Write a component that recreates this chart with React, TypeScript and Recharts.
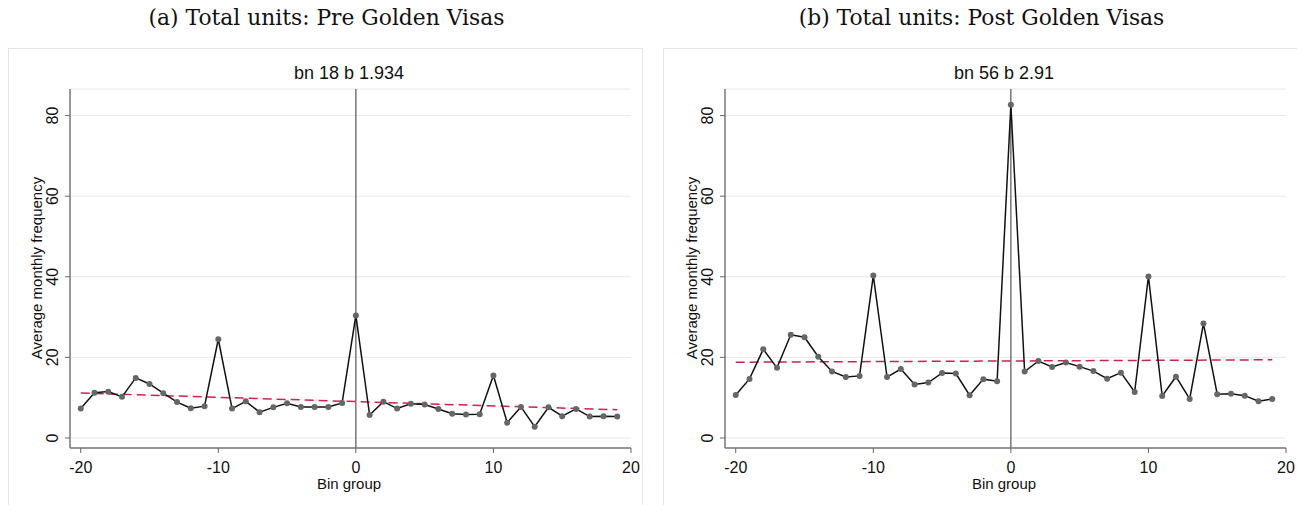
import React from 'react';
import { LineChart, Line, XAxis, YAxis, CartesianGrid, ReferenceLine } from 'recharts';

const bins = [-20, -19, -18, -17, -16, -15, -14, -13, -12, -11, -10, -9, -8, -7, -6, -5, -4, -3, -2, -1, 0, 1, 2, 3, 4, 5, 6, 7, 8, 9, 10, 11, 12, 13, 14, 15, 16, 17, 18, 19];

const preValues = [7.3, 11.2, 11.5, 10.2, 14.9, 13.4, 11.1, 8.9, 7.4, 7.9, 24.5, 7.3, 9.1, 6.4, 7.6, 8.6, 7.7, 7.7, 7.7, 8.7, 30.4, 5.7, 9.0, 7.3, 8.5, 8.3, 7.2, 6.0, 5.8, 5.9, 15.5, 3.8, 7.7, 2.8, 7.6, 5.4, 7.2, 5.3, 5.4, 5.3];
const postValues = [10.65, 14.65, 22.0, 17.4, 25.6, 25.0, 20.15, 16.5, 15.15, 15.4, 40.3, 15.1, 17.1, 13.25, 13.75, 16.15, 16.0, 10.6, 14.6, 14.1, 82.7, 16.5, 19.1, 17.6, 18.7, 17.7, 16.6, 14.7, 16.2, 11.4, 40.1, 10.4, 15.2, 9.7, 28.4, 10.85, 11.0, 10.5, 9.1, 9.7];

// fitted line endpoints (bin -20 and bin 19)
const fitBins = [-20, 19];
const preFit = [11.15, 7.0];
const postFit = [18.8, 19.4];

const xTicks = [-20, -10, 0, 10, 20];
const yTicks = [0, 20, 40, 60, 80];

const panelTitles = ['(a) Total units: Pre Golden Visas', '(b) Total units: Post Golden Visas'];
const chartTitles = ['bn 18 b 1.934', 'bn 56 b 2.91'];

const sans = '"Liberation Sans", Arial, sans-serif';

const XTick = (props: any) => {
  const { x, y, payload } = props;
  return (
    <text x={x} y={y + 18} textAnchor="middle" fontFamily={sans} fontSize={16} fill="#111">
      {payload.value}
    </text>
  );
};

const YTick = (props: any) => {
  const { x, y, payload } = props;
  return (
    <text transform={`translate(${x - 5}, ${y}) rotate(-90)`} textAnchor="middle" fontFamily={sans} fontSize={16} fill="#111">
      {payload.value}
    </text>
  );
};

function Panel({ left, idx, values, fit }: { left: number; idx: number; values: number[]; fit: number[] }) {
  const data = bins.map((b, i) => ({ bin: b, v: values[i] }));
  const fitData = fitBins.map((b, i) => ({ bin: b, fit: fit[i] }));
  return (
    <div style={{ position: 'absolute', left, top: 0, width: 660, height: 505 }}>
      <div style={{ position: 'absolute', left: 0, width: 653, top: 5, textAlign: 'center', fontFamily: '"DejaVu Serif", "Liberation Serif", serif', fontSize: 21.8, color: '#111' }}>
        {panelTitles[idx]}
      </div>
      <div style={{ position: 'absolute', left: 8, top: 48, width: 635, height: 470, border: '1px solid #e6e6e6', boxSizing: 'border-box' }} />
      <div style={{ position: 'absolute', left: 0, width: 698, top: 63, textAlign: 'center', fontFamily: sans, fontSize: 18, color: '#111' }}>
        {chartTitles[idx]}
      </div>
      <div style={{ position: 'absolute', left: 37 - 150, top: 268 - 10, width: 300, height: 20, lineHeight: '20px', textAlign: 'center', transform: 'rotate(-90deg)', fontFamily: sans, fontSize: 15, color: '#111' }}>
        Average monthly frequency
      </div>
      <div style={{ position: 'absolute', left: 0, width: 698, top: 475, textAlign: 'center', fontFamily: sans, fontSize: 15, color: '#111' }}>
        Bin group
      </div>
      <div style={{ position: 'absolute', left: 0, top: 0 }}>
        <LineChart width={660} height={505} data={data} margin={{ top: 89, right: 29, bottom: 17, left: 50 }}>
          <CartesianGrid horizontal vertical={false} stroke="#e8e8e8" />
          <XAxis
            dataKey="bin"
            type="number"
            domain={[-20.78, 20]}
            ticks={xTicks}
            allowDataOverflow
            height={40}
            tick={<XTick />}
            tickSize={5}
            tickLine={{ stroke: '#666' }}
            axisLine={{ stroke: '#777', strokeWidth: 1.5 }}
          />
          <YAxis
            type="number"
            domain={[-2.49, 86.6]}
            ticks={yTicks}
            allowDataOverflow
            width={20}
            tick={<YTick />}
            tickSize={5}
            tickLine={{ stroke: '#666' }}
            axisLine={{ stroke: '#777', strokeWidth: 1.5 }}
          />
          <ReferenceLine x={0} stroke="#555" strokeWidth={1.2} />
          <Line data={fitData} dataKey="fit" stroke="#d0204c" strokeWidth={1.5} strokeDasharray="9 5" dot={false} isAnimationActive={false} />
          <Line dataKey="v" stroke="#111" strokeWidth={1.5} dot={{ r: 3, fill: '#666', stroke: 'none' }} isAnimationActive={false} />
        </LineChart>
      </div>
    </div>
  );
}

export default function App() {
  return (
    <div style={{ position: 'absolute', left: 0, top: 0, width: 1297, height: 505, background: '#fff', overflow: 'hidden' }}>
      <Panel left={0} idx={0} values={preValues} fit={preFit} />
      <Panel left={655} idx={1} values={postValues} fit={postFit} />
    </div>
  );
}
